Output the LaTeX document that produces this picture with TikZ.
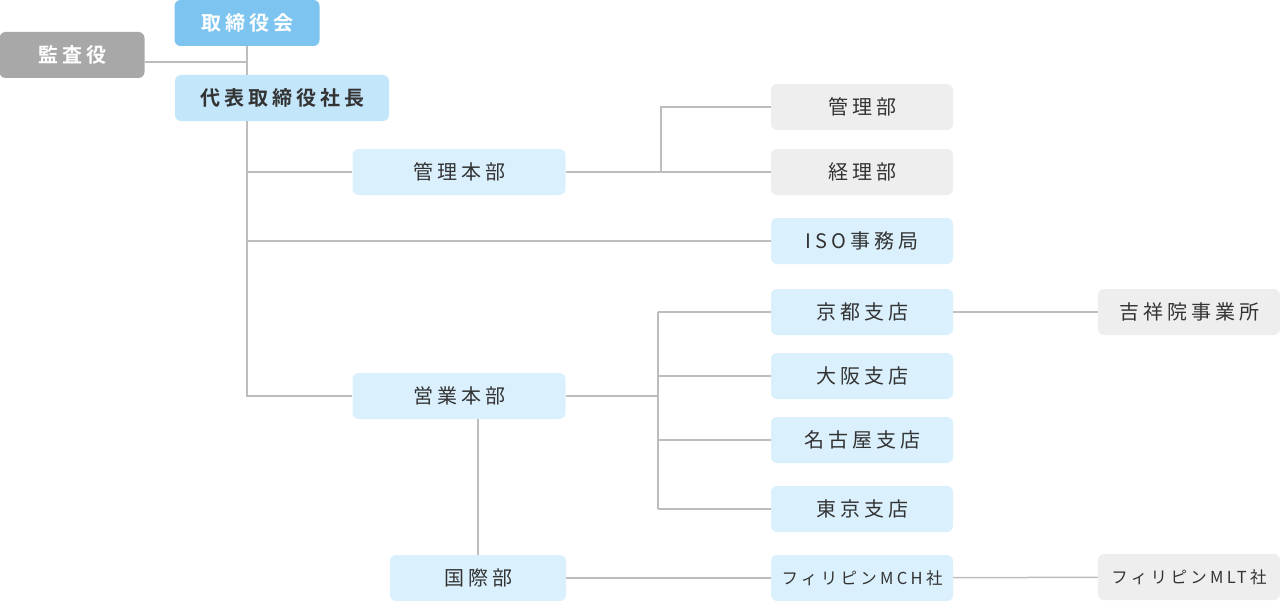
\documentclass[tikz,border=0pt]{standalone}
\usepackage{fontspec}
\newfontfamily\jpfont[LetterSpace=20,BoldFont={Noto Sans CJK JP Bold}]{Noto Sans CJK JP}
\definecolor{topblue}{HTML}{7DC5F0}
\definecolor{ceoblue}{HTML}{C4E6FB}
\definecolor{paleblue}{HTML}{DAF0FD}
\definecolor{auditgray}{HTML}{A8A8A8}
\definecolor{palegray}{HTML}{EEEEEE}
\definecolor{linegray}{HTML}{BDBDBD}
\definecolor{txtgray}{HTML}{333333}
\tikzset{
  unit/.style={rounded corners=6pt, minimum height=46pt, inner sep=0pt,
    text=txtgray, font=\jpfont\fontsize{20}{22}\selectfont},
  headbox/.style={unit, fill=topblue, text=white, minimum width=145pt,
    font=\jpfont\bfseries\fontsize{20}{22}\selectfont},
  auditbox/.style={unit, fill=auditgray, text=white, minimum width=145pt,
    font=\jpfont\bfseries\fontsize{20}{22}\selectfont},
  ceobox/.style={unit, fill=ceoblue, minimum width=214pt,
    font=\jpfont\bfseries\fontsize{20}{22}\selectfont},
  bluebox/.style={unit, fill=paleblue, minimum width=182pt},
  graybox/.style={unit, fill=palegray, minimum width=182pt},
  smalltext/.style={font=\jpfont\fontsize{16.5}{18}\selectfont},
  link/.style={draw=linegray, line width=1.5pt}
}
\begin{document}
\begin{tikzpicture}[x=1pt,y=-1pt]
\useasboundingbox (0,0) rectangle (1280,602);
% top
\node[headbox] (board) at (247,23) {取締役会};
\node[auditbox] (audit) at (72,55) {監査役};
\node[ceobox] (ceo) at (282,98) {代表取締役社長};
% head offices
\node[bluebox, minimum width=213pt] (admin) at (459,172) {管理本部};
\node[bluebox, minimum width=213pt] (sales) at (459,396) {営業本部};
\node[bluebox, minimum width=176pt] (intl) at (478,578) {国際部};
% departments
\node[graybox] (gm) at (862,107) {管理部};
\node[graybox] (acct) at (862,172) {経理部};
\node[bluebox] (iso) at (862,241) {ISO事務局};
\foreach \name/\y/\txt in {kyoto/312/京都支店, osaka/376/大阪支店,
    nagoya/440/名古屋支店, tokyo/509/東京支店} {
  \node[bluebox] (\name) at (862,\y) {\txt};
}
\node[graybox] (kissho) at (1189,312) {吉祥院事業所};
\node[bluebox, smalltext] (mch) at (862,578) {フィリピンMCH社};
\node[graybox, smalltext] (mlt) at (1189,577) {フィリピンMLT社};
% connectors
\coordinate (auditend) at ([yshift=-7pt]audit.east);
\draw[link] (board.south) -- (board.south |- ceo.north);
\draw[link] (auditend) -- (auditend -| board.south);
\draw[link] (board.south |- ceo.south) |- (sales.west);
\draw[link] (board.south |- admin.west) -- (admin.west);
\draw[link] (board.south |- iso.west) -- (iso.west);
\coordinate (abus) at (661,172);
\draw[link] (admin.east) -- (abus) |- (gm.west);
\draw[link] (abus) -- (acct.west);
\coordinate (sbus) at (658,396);
\draw[link] (sales.east) -- (sbus);
\draw[link] (sbus |- kyoto.west) -- (sbus |- tokyo.west);
\foreach \name in {kyoto,osaka,nagoya,tokyo} {
  \draw[link] (sbus |- \name.west) -- (\name.west);
}
\draw[link] (kyoto) -- (kissho);
\draw[link] (intl.north |- sales.south) -- (intl.north);
\draw[link] (intl) -- (mch);
\draw[link] (mch) -- (mlt);
\end{tikzpicture}
\end{document}
